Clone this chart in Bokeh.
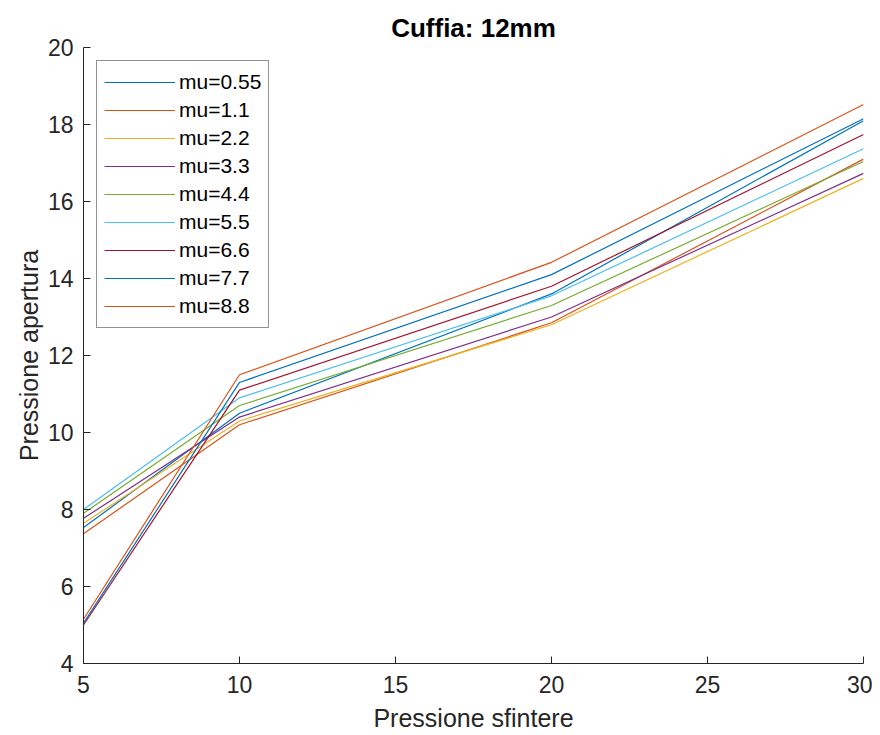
from bokeh.plotting import figure
from bokeh.models import Range1d, FixedTicker, Legend, LegendItem
from bokeh.embed import file_html
from bokeh.resources import INLINE

pressione_sfintere = [5, 10, 20, 30]

mu_labels = ["mu=0.55", "mu=1.1", "mu=2.2", "mu=3.3", "mu=4.4",
             "mu=5.5", "mu=6.6", "mu=7.7", "mu=8.8"]

mu_0_55 = [7.53, 10.5, 13.6, 18.1]
mu_1_1 = [7.37, 10.2, 12.85, 17.1]
mu_2_2 = [7.64, 10.3, 12.8, 16.6]
mu_3_3 = [7.77, 10.4, 13.0, 16.73]
mu_4_4 = [7.9, 10.7, 13.3, 17.04]
mu_5_5 = [8.0, 10.9, 13.55, 17.37]
mu_6_6 = [5.0, 11.1, 13.8, 17.74]
mu_7_7 = [5.05, 11.3, 14.1, 18.15]
mu_8_8 = [5.15, 11.5, 14.42, 18.52]

series = [mu_0_55, mu_1_1, mu_2_2, mu_3_3, mu_4_4, mu_5_5, mu_6_6, mu_7_7, mu_8_8]
colors = ["#0072BD", "#D95319", "#EDB120", "#7E2F8E", "#77AC30",
          "#4DBEEE", "#A2142F", "#0072BD", "#D95319"]

x_ticks = [5, 10, 15, 20, 25, 30]
y_ticks = [4, 6, 8, 10, 12, 14, 16, 18, 20]

FONT = "Liberation Sans"
TXT = "#262626"

p = figure(frame_width=780, frame_height=616,
           min_border_left=83, min_border_right=9,
           min_border_top=47, min_border_bottom=70,
           x_range=Range1d(5, 30), y_range=Range1d(4, 20),
           output_backend="svg", toolbar_location=None,
           title="Cuffia: 12mm")

p.title.align = "center"
p.title.text_font = FONT
p.title.text_font_size = "26px"
p.title.text_font_style = "bold"
p.title.text_color = "#000000"
p.title.offset = 0
p.title.standoff = 9

p.outline_line_color = None
p.xgrid.visible = False
p.ygrid.visible = False

items = []
for lab, ys, c in zip(mu_labels, series, colors):
    r = p.line(pressione_sfintere, ys, line_color=c, line_width=1.2)
    items.append(LegendItem(label=lab, renderers=[r]))

for ax, ticks in ((p.xaxis[0], x_ticks), (p.yaxis[0], y_ticks)):
    ax.ticker = FixedTicker(ticks=ticks)
    ax.minor_tick_line_color = None
    ax.major_tick_out = 0
    ax.major_tick_in = 7
    ax.axis_line_color = TXT
    ax.major_tick_line_color = TXT
    ax.major_label_text_font = FONT
    ax.major_label_text_font_size = "23px"
    ax.major_label_text_color = TXT
    ax.axis_label_text_font = FONT
    ax.axis_label_text_font_size = "25px"
    ax.axis_label_text_font_style = "normal"
    ax.axis_label_text_color = TXT

p.xaxis.axis_label = "Pressione sfintere"
p.yaxis.axis_label = "Pressione apertura"
p.xaxis.major_label_standoff = 12
p.xaxis.axis_label_standoff = 8
p.yaxis.major_label_standoff = 10
p.yaxis.axis_label_standoff = 2

legend = Legend(items=items, location="top_left")
legend.margin = 13
legend.padding = 7
legend.spacing = 0
legend.glyph_width = 71
legend.glyph_height = 28
legend.label_height = 28
legend.label_standoff = 4
legend.label_text_font = FONT
legend.label_text_font_size = "21px"
legend.label_text_color = "#000000"
legend.border_line_color = TXT
legend.border_line_width = 1
legend.background_fill_color = "white"
legend.background_fill_alpha = 1.0
p.add_layout(legend, "center")

open("out.html", "w").write(file_html(p, INLINE))
